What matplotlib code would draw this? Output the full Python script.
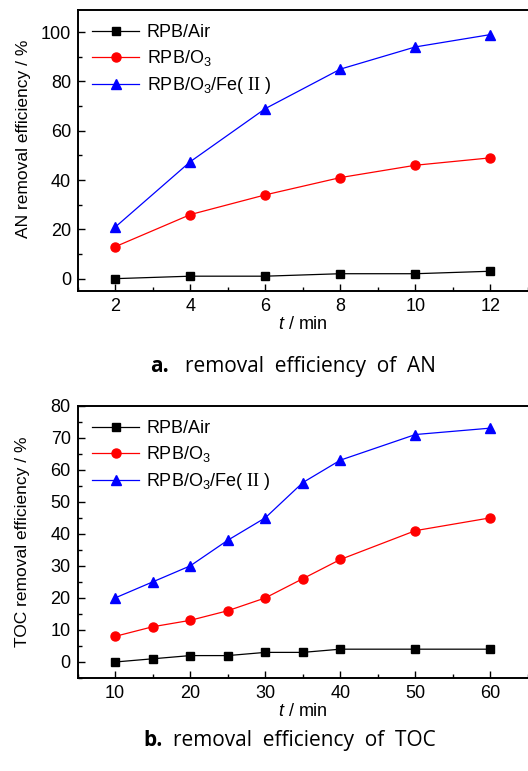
import matplotlib
matplotlib.use("Agg")
import matplotlib.pyplot as plt
from matplotlib.ticker import MultipleLocator
from matplotlib import font_manager

names = {f.name for f in font_manager.fontManager.ttflist}
base = 'Liberation Sans Narrow' if 'Liberation Sans Narrow' in names else 'Liberation Sans'
plt.rcParams['font.family'] = [base, 'Liberation Sans', 'DejaVu Sans']
plt.rcParams['mathtext.fontset'] = 'custom'
plt.rcParams['mathtext.rm'] = 'Liberation Serif'
plt.rcParams['mathtext.sf'] = base
plt.rcParams['mathtext.it'] = base + ':italic'
plt.rcParams['mathtext.bf'] = base + ':bold'

# Panel a data
t_a = [2, 4, 6, 8, 10, 12]
an_air = [0, 1, 1, 2, 2, 3]
an_o3 = [13, 26, 34, 41, 46, 49]
an_fe = [21, 47.5, 69, 85, 94, 99]

# Panel b data
t_b = [10, 15, 20, 25, 30, 35, 40, 50, 60]
toc_air = [0, 1, 2, 2, 3, 3, 4, 4, 4]
toc_o3 = [8, 11, 13, 16, 20, 26, 32, 41, 45]
toc_fe = [20, 25, 30, 38, 45, 56, 63, 71, 73]

labels = ['RPB/Air', r'RPB/O$_\mathsf{3}$', r'RPB/O$_\mathsf{3}$/Fe( $\mathrm{II}$ )']

fig = plt.figure(figsize=(5.28, 7.71), dpi=100)
ax1 = fig.add_axes([0.1477, 0.6226, 0.852, 0.3645])
ax2 = fig.add_axes([0.1470, 0.1206, 0.853, 0.3532])

fs = 15 if base.endswith('Narrow') else 13

def style(ax, series, x, ylim, xlim, xmaj, xmin, ymaj, ymin, ylabel, ly):
    ax.plot(x, series[0], '-s', color='black', ms=5.5, lw=0.9, label=labels[0])
    ax.plot(x, series[1], '-o', color='red', ms=6.5, lw=0.9, label=labels[1])
    ax.plot(x, series[2], '-^', color='blue', ms=7, lw=0.9, label=labels[2])
    ax.set_xlim(*xlim)
    ax.set_ylim(*ylim)
    ax.xaxis.set_major_locator(MultipleLocator(xmaj))
    ax.xaxis.set_minor_locator(MultipleLocator(xmin))
    ax.yaxis.set_major_locator(MultipleLocator(ymaj))
    ax.yaxis.set_minor_locator(MultipleLocator(ymin))
    ax.tick_params(which='both', direction='in', labelsize=fs, top=False, right=False)
    ax.tick_params(which='major', length=5, width=1, pad=5)
    ax.tick_params(which='minor', length=3, width=1)
    ax.spines['right'].set_visible(False)
    for s in ['left', 'bottom', 'top']:
        ax.spines[s].set_linewidth(1.4)
    ax.set_ylabel(ylabel, fontsize=fs - 0.5)
    ax.yaxis.set_label_coords(-0.105, ly)
    ax.set_xlabel(r'$\mathit{t}$ / min', fontsize=fs, labelpad=1)
    ax.legend(loc='upper left', frameon=False, fontsize=fs, handlelength=2.6,
              handletextpad=0.4, labelspacing=0.38, borderaxespad=0.4,
              bbox_to_anchor=(0.0, 1.0))

style(ax1, [an_air, an_o3, an_fe], t_a, (-5, 109), (1, 13), 2, 1, 20, 10,
      'AN removal efficiency / %', 0.54)
style(ax2, [toc_air, toc_o3, toc_fe], t_b, (-5, 80), (5, 65), 10, 5, 10, 5,
      'TOC removal efficiency / %', 0.5)

cap = dict(fontsize=15, family='Open Sans', ha='left', va='center')
fig.text(0.284, 0.524, 'a.', fontweight='bold', **cap)
fig.text(0.350, 0.524, 'removal  efficiency  of  AN', **cap)
fig.text(0.271, 0.040, 'b.', fontweight='bold', **cap)
fig.text(0.328, 0.040, 'removal  efficiency  of  TOC', **cap)

fig.savefig('out.png', dpi=100)
